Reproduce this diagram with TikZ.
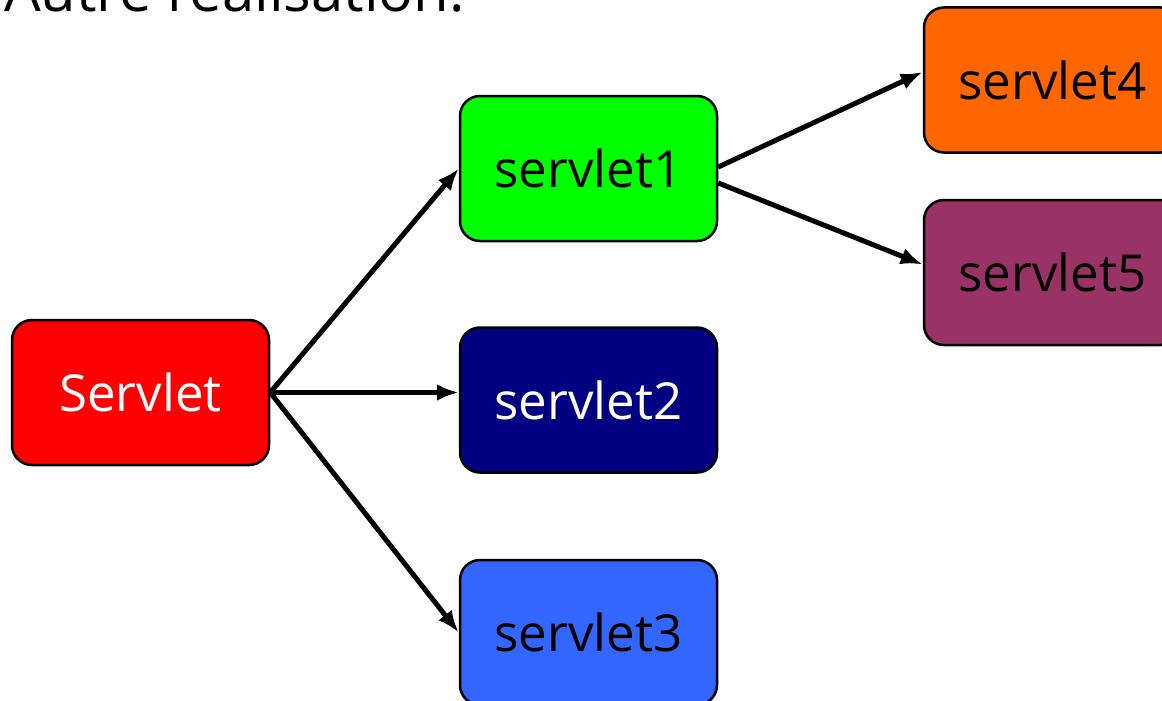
\documentclass[tikz,border=0pt]{standalone}
\usepackage{fontspec}
\setmainfont{Open Sans}
\usetikzlibrary{arrows.meta}
\definecolor{cRed}{HTML}{FF0000}
\definecolor{cGreen}{HTML}{00FF00}
\definecolor{cNavy}{HTML}{000080}
\definecolor{cBlue}{HTML}{3366FF}
\definecolor{cOrange}{HTML}{FF6600}
\definecolor{cPlum}{HTML}{993366}
\tikzset{
  box/.style={draw=black, line width=2.5pt, rounded corners=20pt,
    minimum width=257pt, minimum height=145pt, inner sep=0pt,
    font=\fontsize{51}{55}\selectfont, text=black},
  link/.style={line width=5pt, -{Latex[length=22pt,width=17pt]}},
}
\begin{document}
\begin{tikzpicture}[x=1pt,y=-1pt]
  \useasboundingbox (0,0) rectangle (1162,701);
  \clip (0,0) rectangle (1162,701);
  % heading, mostly above the visible area
  \node[anchor=base west, font=\fontsize{58}{60}\selectfont, inner sep=0pt] (title) at (4,12) {Autre réalisation:};
  % boxes
  \node[box, fill=cRed, text=white] (root) at (140.5,392.5) {Servlet};
  \node[box, fill=cGreen] (s1) at (588.5,168.5) {servlet1};
  \node[box, fill=cNavy, text=white] (s2) at (588.5,400) {servlet2};
  \node[box, fill=cBlue] (s3) at (588.5,632.5) {servlet3};
  \node[box, fill=cOrange] (s4) at (1052.5,80) {servlet4};
  \node[box, fill=cPlum] (s5) at (1052.5,272.5) {servlet5};
  % connectors
  \draw[link] (root.east) -- (s1.west);
  \draw[link] (root.east) -- (root.east -| s2.west);
  \draw[link] (root.east) -- (s3.west);
  \draw[link] ([yshift=1.5pt]s1.east) -- ([yshift=8pt]s4.west);
  \draw[link] ([yshift=-14.5pt]s1.east) -- ([yshift=8pt]s5.west);
\end{tikzpicture}
\end{document}
